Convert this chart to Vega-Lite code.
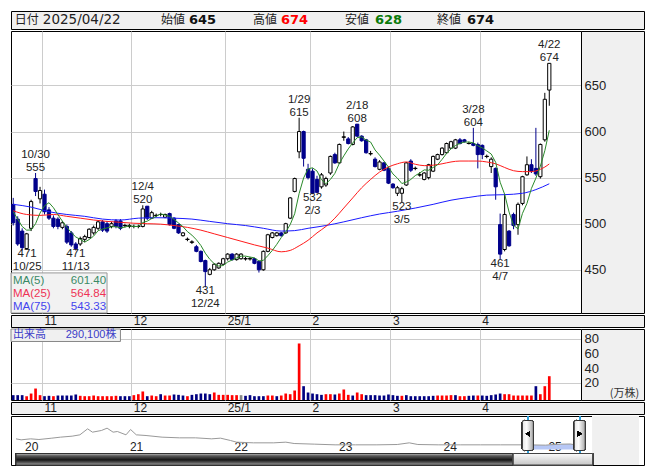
{
  "$schema": "https://vega.github.io/schema/vega-lite/v6.json",
  "background": "white",
  "padding": {"left": 10, "top": 10, "right": 0, "bottom": 0},
  "spacing": 0,
  "config": {
    "font": "Liberation Sans, Noto Sans CJK JP",
    "concat": {"spacing": 0},
    "axis": {"labelFont": "Liberation Sans", "labelFontSize": 13, "labelColor": "#222222", "labelOverlap": false, "labelFlush": false},
    "text": {"font": "Liberation Sans, Noto Sans CJK JP"}
  },
  "datasets": {
    "hdr": [
      {"k": "日付", "v": "2025/04/22"},
      {"k": "始値", "v": "645"},
      {"k": "高値", "v": "674"},
      {"k": "安値", "v": "628"},
      {"k": "終値", "v": "674"}
    ],
    "ma": [
      {"n": "MA(5)", "val": "601.40"},
      {"n": "MA(25)", "val": "564.84"},
      {"n": "MA(75)", "val": "543.33"}
    ],
    "vol": [{"n": "出来高", "val": "290,100株"}],
    "p": [
      {"d":"2024-10-23","o":521,"h":528,"l":498,"c":501,"v":3.2,"vd":"d","m5":513,"m25":514,"m75":521},
      {"d":"2024-10-24","o":505,"h":508,"l":476,"c":478,"v":3.2,"vd":"d","m5":505},
      {"d":"2024-10-25","o":492,"h":495,"l":471,"c":474,"v":3.2,"vd":"d","m5":497,"lo":["471","10/25"]},
      {"d":"2024-10-28","o":473,"h":490,"l":472,"c":489,"v":1.8,"vd":"u","m5":493,"m25":510},
      {"d":"2024-10-29","o":495,"h":526,"l":492,"c":524,"v":5.4,"vd":"u","m5":493.2,"m75":518},
      {"d":"2024-10-30","o":549,"h":555,"l":530,"c":535,"v":12.2,"vd":"u","m5":500,"hi":["10/30","555"]},
      {"d":"2024-10-31","o":527,"h":540,"l":522,"c":536,"v":3.2,"vd":"u","m5":511.6,"m25":509},
      {"d":"2024-11-01","o":532,"h":537,"l":510,"c":513,"v":1.8,"vd":"d","m5":519.4,"m":"11"},
      {"d":"2024-11-05","o":515,"h":518,"l":504,"c":506,"v":2.3,"vd":"d","m5":522.8,"m75":513},
      {"d":"2024-11-06","o":506,"h":509,"l":495,"c":497,"v":1.8,"vd":"u","m5":517.4,"m25":510},
      {"d":"2024-11-07","o":505,"h":507,"l":494,"c":497,"v":2.7,"vd":"d","m5":509.8},
      {"d":"2024-11-08","o":496,"h":503,"l":494,"c":501,"v":2.7,"vd":"d","m5":502.8},
      {"d":"2024-11-11","o":497,"h":499,"l":478,"c":480,"v":2.7,"vd":"d","m5":496.2,"m25":508,"m75":510},
      {"d":"2024-11-12","o":490,"h":492,"l":475,"c":477,"v":2.7,"vd":"d","m5":490.4},
      {"d":"2024-11-13","o":478,"h":480,"l":471,"c":473,"v":4.1,"vd":"d","m5":485.6,"lo":["471","11/13"]},
      {"d":"2024-11-14","o":478,"h":486,"l":476,"c":484,"v":2.3,"vd":"u","m5":483,"m25":506},
      {"d":"2024-11-15","o":483,"h":488,"l":480,"c":486,"v":1.8,"vd":"u","m5":480,"m75":508},
      {"d":"2024-11-18","o":485,"h":495,"l":484,"c":494,"v":1.8,"vd":"u","m5":482.8},
      {"d":"2024-11-19","o":490,"h":498,"l":488,"c":496,"v":2.7,"vd":"u","m5":486.6,"m25":504},
      {"d":"2024-11-20","o":495,"h":503,"l":493,"c":502,"v":1.8,"vd":"u","m5":492.4},
      {"d":"2024-11-21","o":502,"h":504,"l":491,"c":493,"v":1.8,"vd":"u","m5":494.2,"m75":505},
      {"d":"2024-11-22","o":500,"h":503,"l":490,"c":492,"v":1.8,"vd":"u","m5":495.4,"m25":502.5},
      {"d":"2024-11-25","o":497,"h":502,"l":495,"c":500,"v":1.8,"vd":"u","m5":496.6},
      {"d":"2024-11-26","o":503,"h":505,"l":495,"c":497,"v":2.3,"vd":"u","m5":496.8},
      {"d":"2024-11-27","o":503,"h":505,"l":493,"c":495,"v":1.8,"vd":"d","m5":495.4,"m25":501.5,"m75":504},
      {"d":"2024-11-28","o":498,"h":500,"l":496,"c":498,"v":1.8,"vd":"d","m5":496.4},
      {"d":"2024-11-29","o":497,"h":500,"l":495,"c":498,"v":1.8,"vd":"d","m5":497.6},
      {"d":"2024-12-02","o":497,"h":499,"l":495,"c":497,"v":3.2,"vd":"u","m5":497,"m25":500.5,"m":"12"},
      {"d":"2024-12-03","o":497,"h":499,"l":495,"c":497,"v":4.5,"vd":"u","m5":497,"m75":506},
      {"d":"2024-12-04","o":497,"h":520,"l":496,"c":516,"v":8.2,"vd":"u","m5":501.2,"hi":["12/4","520"]},
      {"d":"2024-12-05","o":519,"h":519,"l":504,"c":506,"v":1.8,"vd":"d","m5":502.8,"m25":500},
      {"d":"2024-12-06","o":506,"h":514,"l":505,"c":512,"v":2.7,"vd":"u","m5":505.6},
      {"d":"2024-12-09","o":509,"h":511,"l":507,"c":509,"v":1.8,"vd":"u","m5":508,"m75":506.5},
      {"d":"2024-12-10","o":510,"h":512,"l":508,"c":510,"v":4.5,"vd":"d","m5":510.6,"m25":499.5},
      {"d":"2024-12-11","o":507,"h":511,"l":506,"c":510,"v":2.7,"vd":"u","m5":509.4},
      {"d":"2024-12-12","o":511,"h":512,"l":498,"c":499,"v":2.7,"vd":"u","m5":508},
      {"d":"2024-12-13","o":506,"h":507,"l":494,"c":495,"v":4.1,"vd":"d","m5":504.6,"m25":498,"m75":506},
      {"d":"2024-12-16","o":499,"h":500,"l":489,"c":490,"v":3.6,"vd":"d","m5":500.8},
      {"d":"2024-12-17","o":487,"h":491,"l":486,"c":490,"v":2.7,"vd":"d","m5":496.8},
      {"d":"2024-12-18","o":483,"h":485,"l":481,"c":483,"v":1.8,"vd":"u","m5":491.4,"m25":496},
      {"d":"2024-12-19","o":480,"h":482,"l":478,"c":480,"v":3.6,"vd":"d","m5":487.6,"m75":505},
      {"d":"2024-12-20","o":475,"h":477,"l":469,"c":470,"v":4.5,"vd":"d","m5":482.6},
      {"d":"2024-12-23","o":470,"h":471,"l":458,"c":459,"v":5.4,"vd":"d","m5":476.4,"m25":493},
      {"d":"2024-12-24","o":460,"h":461,"l":431,"c":448,"v":5.4,"vd":"d","m5":468,"lo":["431","12/24"]},
      {"d":"2024-12-25","o":445,"h":452,"l":444,"c":450,"v":4.5,"vd":"d","m5":461.4,"m75":502.5},
      {"d":"2024-12-26","o":450,"h":457,"l":449,"c":456,"v":6.8,"vd":"u","m5":456.6,"m25":489},
      {"d":"2024-12-27","o":452,"h":458,"l":451,"c":457,"v":3.6,"vd":"u","m5":454},
      {"d":"2024-12-30","o":456,"h":463,"l":455,"c":462,"v":3.6,"vd":"u","m5":454.6},
      {"d":"2025-01-06","o":462,"h":468,"l":460,"c":467,"v":3.6,"vd":"u","m5":458.4,"m25":485,"m75":500,"m":"25/1"},
      {"d":"2025-01-07","o":467,"h":468,"l":460,"c":461,"v":3.2,"vd":"u","m5":460.6},
      {"d":"2025-01-08","o":461,"h":468,"l":460,"c":467,"v":3.2,"vd":"u","m5":462.8},
      {"d":"2025-01-09","o":462,"h":468,"l":461,"c":467,"v":3.2,"vd":"n","m5":464.8,"m25":481},
      {"d":"2025-01-10","o":462,"h":464,"l":460,"c":462,"v":2.3,"vd":"d","m5":464.8,"m75":498},
      {"d":"2025-01-14","o":462,"h":464,"l":460,"c":462,"v":3.2,"vd":"d","m5":463.8},
      {"d":"2025-01-15","o":462,"h":463,"l":456,"c":457,"v":1.8,"vd":"d","m5":463,"m25":477},
      {"d":"2025-01-16","o":459,"h":460,"l":447,"c":450,"v":1.8,"vd":"d","m5":459.6},
      {"d":"2025-01-17","o":450,"h":471,"l":449,"c":470,"v":1.8,"vd":"d","m5":460.2,"m75":495},
      {"d":"2025-01-20","o":470,"h":489,"l":469,"c":488,"v":2.7,"vd":"u","m5":465.4,"m25":473.5},
      {"d":"2025-01-21","o":485,"h":491,"l":484,"c":490,"v":2.7,"vd":"u","m5":471},
      {"d":"2025-01-22","o":487,"h":491,"l":486,"c":490,"v":1.8,"vd":"d","m5":477.6},
      {"d":"2025-01-23","o":490,"h":491,"l":486,"c":487,"v":2.7,"vd":"u","m5":485,"m25":469.5,"m75":492},
      {"d":"2025-01-24","o":490,"h":501,"l":489,"c":500,"v":5.4,"vd":"u","m5":491},
      {"d":"2025-01-27","o":506,"h":529,"l":505,"c":528,"v":4.5,"vd":"u","m5":499,"m25":471},
      {"d":"2025-01-28","o":535,"h":550,"l":534,"c":549,"v":9.5,"vd":"u","m5":510.8,"m75":492.5},
      {"d":"2025-01-29","o":578,"h":615,"l":571,"c":600,"v":73.5,"vd":"u","m5":532.8,"m25":476,"hi":["1/29","615"]},
      {"d":"2025-01-30","o":600,"h":601,"l":562,"c":571,"v":15.4,"vd":"d","m5":549.6},
      {"d":"2025-01-31","o":559,"h":565,"l":548,"c":550,"v":6.8,"vd":"d","m5":559.6,"m25":482,"m75":495},
      {"d":"2025-02-03","o":557,"h":560,"l":532,"c":533,"v":5.4,"vd":"d","m5":560.6,"lo":["532","2/3"],"m":"2"},
      {"d":"2025-02-04","o":548,"h":552,"l":533,"c":534,"v":4.5,"vd":"d","m5":557.2,"m25":490},
      {"d":"2025-02-05","o":540,"h":555,"l":538,"c":553,"v":3.6,"vd":"d","m5":547.8},
      {"d":"2025-02-06","o":542,"h":551,"l":540,"c":549,"v":4.5,"vd":"u","m5":543.4,"m25":497,"m75":498},
      {"d":"2025-02-07","o":555,"h":574,"l":553,"c":573,"v":4.5,"vd":"u","m5":548},
      {"d":"2025-02-10","o":575,"h":577,"l":565,"c":566,"v":4.1,"vd":"d","m5":554.6,"m25":506},
      {"d":"2025-02-12","o":566,"h":587,"l":565,"c":586,"v":5.4,"vd":"u","m5":565.4},
      {"d":"2025-02-13","o":594,"h":600,"l":590,"c":594,"v":10.9,"vd":"u","m5":573.6,"m25":517,"m75":502},
      {"d":"2025-02-14","o":592,"h":594,"l":586,"c":587,"v":3.6,"vd":"u","m5":581.2},
      {"d":"2025-02-17","o":586,"h":606,"l":585,"c":605,"v":2.7,"vd":"d","m5":587.6,"m25":528},
      {"d":"2025-02-18","o":608,"h":608,"l":594,"c":595,"v":6.8,"vd":"u","m5":593.4,"hi":["2/18","608"]},
      {"d":"2025-02-19","o":595,"h":596,"l":589,"c":590,"v":4.5,"vd":"u","m5":594.2,"m25":539,"m75":506.5},
      {"d":"2025-02-20","o":591,"h":592,"l":576,"c":577,"v":3.2,"vd":"d","m5":590.8},
      {"d":"2025-02-21","o":576,"h":579,"l":574,"c":576,"v":3.2,"vd":"d","m5":588.6,"m25":548},
      {"d":"2025-02-25","o":570,"h":572,"l":561,"c":562,"v":3.2,"vd":"d","m5":580},
      {"d":"2025-02-26","o":559,"h":569,"l":558,"c":567,"v":2.7,"vd":"d","m5":574.4,"m25":556,"m75":510.5},
      {"d":"2025-02-27","o":566,"h":567,"l":557,"c":558,"v":2.7,"vd":"d","m5":568},
      {"d":"2025-02-28","o":560,"h":562,"l":543,"c":544,"v":4.1,"vd":"d","m5":561.4,"m25":561.5},
      {"d":"2025-03-03","o":543,"h":544,"l":538,"c":539,"v":3.2,"vd":"d","m5":554,"m":"3"},
      {"d":"2025-03-04","o":533,"h":541,"l":530,"c":539,"v":2.3,"vd":"d","m5":549.4,"m25":565,"m75":513.5},
      {"d":"2025-03-05","o":533,"h":540,"l":523,"c":538,"v":2.3,"vd":"u","m5":543.6,"lo":["523","3/5"]},
      {"d":"2025-03-06","o":542,"h":567,"l":541,"c":566,"v":3.2,"vd":"d","m5":545.2,"m25":567},
      {"d":"2025-03-07","o":568,"h":570,"l":556,"c":558,"v":1.8,"vd":"d","m5":548},
      {"d":"2025-03-10","o":560,"h":562,"l":558,"c":560,"v":1.8,"vd":"d","m5":552.2,"m25":564.5,"m75":517},
      {"d":"2025-03-11","o":553,"h":556,"l":551,"c":553,"v":1.8,"vd":"d","m5":555},
      {"d":"2025-03-12","o":548,"h":556,"l":547,"c":555,"v":1.8,"vd":"d","m5":558.4,"m25":563},
      {"d":"2025-03-13","o":550,"h":565,"l":548,"c":564,"v":1.8,"vd":"d","m5":558},
      {"d":"2025-03-14","o":557,"h":574,"l":556,"c":573,"v":2.3,"vd":"d","m5":561,"m25":563.5,"m75":521},
      {"d":"2025-03-17","o":570,"h":576,"l":569,"c":575,"v":2.7,"vd":"u","m5":564},
      {"d":"2025-03-18","o":575,"h":583,"l":574,"c":582,"v":2.7,"vd":"u","m5":569.8,"m25":565},
      {"d":"2025-03-19","o":577,"h":588,"l":576,"c":587,"v":2.7,"vd":"u","m5":576.2},
      {"d":"2025-03-21","o":582,"h":590,"l":581,"c":589,"v":3.2,"vd":"u","m5":581.2,"m25":567,"m75":525.5},
      {"d":"2025-03-24","o":582,"h":592,"l":581,"c":591,"v":3.2,"vd":"d","m5":584.8},
      {"d":"2025-03-25","o":591,"h":593,"l":586,"c":587,"v":1.8,"vd":"u","m5":587.2,"m25":568},
      {"d":"2025-03-26","o":591,"h":592,"l":588,"c":589,"v":1.8,"vd":"u","m5":588.6},
      {"d":"2025-03-27","o":587,"h":589,"l":586,"c":587,"v":2.3,"vd":"d","m5":588.6,"m25":568,"m75":528.5},
      {"d":"2025-03-28","o":587,"h":604,"l":584,"c":585,"v":2.7,"vd":"d","m5":587.8,"hi":["3/28","604"]},
      {"d":"2025-03-31","o":586,"h":588,"l":560,"c":575,"v":2.7,"vd":"u","m5":584.6,"m25":568},
      {"d":"2025-04-01","o":585,"h":586,"l":570,"c":575,"v":2.7,"vd":"d","m5":582.2,"m":"4"},
      {"d":"2025-04-02","o":573,"h":575,"l":571,"c":573,"v":2.3,"vd":"d","m5":579,"m25":567,"m75":531},
      {"d":"2025-04-03","o":562,"h":572,"l":555,"c":570,"v":3.2,"vd":"d","m5":575.6},
      {"d":"2025-04-04","o":560,"h":561,"l":526,"c":540,"v":4.1,"vd":"d","m5":566.6,"m25":565},
      {"d":"2025-04-07","o":499,"h":511,"l":461,"c":467,"v":5.4,"vd":"d","m5":545,"lo":["461","4/7"]},
      {"d":"2025-04-08","o":472,"h":532,"l":470,"c":510,"v":4.5,"vd":"u","m5":532,"m25":561,"m75":531.5},
      {"d":"2025-04-09","o":492,"h":493,"l":475,"c":476,"v":4.5,"vd":"u","m5":512.6},
      {"d":"2025-04-10","o":510,"h":512,"l":494,"c":498,"v":2.7,"vd":"u","m5":498.2,"m25":557.5},
      {"d":"2025-04-11","o":499,"h":523,"l":488,"c":521,"v":2.7,"vd":"u","m5":494.4},
      {"d":"2025-04-14","o":522,"h":552,"l":520,"c":551,"v":2.7,"vd":"u","m5":511.2,"m25":556.5,"m75":533},
      {"d":"2025-04-15","o":553,"h":573,"l":552,"c":564,"v":2.7,"vd":"u","m5":522},
      {"d":"2025-04-16","o":564,"h":570,"l":555,"c":557,"v":2.7,"vd":"u","m5":538.2,"m25":556.5},
      {"d":"2025-04-17","o":560,"h":604,"l":552,"c":554,"v":15.4,"vd":"d","m5":549.4,"m75":537},
      {"d":"2025-04-18","o":551,"h":587,"l":549,"c":586,"v":4.5,"vd":"u","m5":562.4,"m25":559},
      {"d":"2025-04-21","o":591,"h":642,"l":589,"c":635,"v":15.4,"vd":"u","m5":579.2,"m25":561.5},
      {"d":"2025-04-22","o":645,"h":674,"l":628,"c":674,"v":29.0,"vd":"u","m5":601.4,"m25":564.84,"m75":543.33,"hi":["4/22","674"]}
    ],
    "nav": [
      {"t":"2019-12-02","v":1280},{"t":"2019-12-20","v":1160},{"t":"2020-01-22","v":1280},{"t":"2020-02-20","v":1200},
      {"t":"2020-04-05","v":1360},{"t":"2020-05-05","v":1480},{"t":"2020-06-15","v":1600},{"t":"2020-07-12","v":1760},
      {"t":"2020-08-08","v":2480},{"t":"2020-08-25","v":2080},{"t":"2020-09-25","v":2280},{"t":"2020-10-15","v":2560},
      {"t":"2020-11-05","v":2080},{"t":"2020-11-20","v":2160},{"t":"2020-12-20","v":1760},{"t":"2021-01-05","v":2400},
      {"t":"2021-01-25","v":1760},{"t":"2021-02-28","v":1680},{"t":"2021-04-25","v":1480},{"t":"2021-06-25","v":1400},
      {"t":"2021-08-20","v":1400},{"t":"2021-10-15","v":1280},{"t":"2021-11-15","v":1360},{"t":"2021-12-20","v":1080},
      {"t":"2022-01-10","v":880},{"t":"2022-03-10","v":800},{"t":"2022-05-20","v":800},{"t":"2022-07-01","v":880},
      {"t":"2022-07-30","v":720},{"t":"2022-10-10","v":640},{"t":"2022-12-20","v":560},{"t":"2023-03-01","v":560},
      {"t":"2023-05-15","v":560},{"t":"2023-07-25","v":600},{"t":"2023-09-05","v":800},{"t":"2023-10-05","v":600},
      {"t":"2023-12-15","v":560},{"t":"2024-03-01","v":560},{"t":"2024-05-10","v":560},{"t":"2024-07-20","v":560},
      {"t":"2024-09-30","v":560},
      {"t":"2024-10-23","v":560,"s":1},{"t":"2024-12-24","v":520,"s":1},{"t":"2025-01-06","v":560,"s":1},
      {"t":"2025-02-15","v":640,"s":1},{"t":"2025-03-20","v":660,"s":1},{"t":"2025-04-07","v":560,"s":1},{"t":"2025-04-22","v":680,"s":1}
    ]
  },
  "vconcat": [
    {
      "width": 633, "height": 18,
      "view": {"fill": "#f0f0f0", "stroke": "#000000"},
      "data": {"name": "hdr"},
      "layer": [
        {"transform": [{"filter": "datum.k == '日付'"}], "mark": {"type": "text", "align": "left", "font": "Noto Sans CJK JP", "fontSize": 12, "color": "#222222"},
         "encoding": {"x": {"datum": 3.8, "type": "quantitative", "scale": {"domain": [0, 633], "nice": false, "zero": false}, "axis": null}, "text": {"field": "k"}}},
        {"transform": [{"filter": "datum.k == '日付'"}], "mark": {"type": "text", "align": "left", "font": "DejaVu Sans", "fontSize": 13.5, "color": "#222222"},
         "encoding": {"x": {"datum": 31.8, "type": "quantitative", "axis": null}, "text": {"field": "v"}}},
        {"transform": [{"filter": "datum.k == '始値'"}], "mark": {"type": "text", "align": "left", "font": "Noto Sans CJK JP", "fontSize": 12, "color": "#222222"},
         "encoding": {"x": {"datum": 150, "type": "quantitative", "axis": null}, "text": {"field": "k"}}},
        {"transform": [{"filter": "datum.k == '始値'"}], "mark": {"type": "text", "align": "left", "font": "DejaVu Sans", "fontSize": 13, "fontWeight": "bold", "color": "#111111"},
         "encoding": {"x": {"datum": 178, "type": "quantitative", "axis": null}, "text": {"field": "v"}}},
        {"transform": [{"filter": "datum.k == '高値'"}], "mark": {"type": "text", "align": "left", "font": "Noto Sans CJK JP", "fontSize": 12, "color": "#222222"},
         "encoding": {"x": {"datum": 242, "type": "quantitative", "axis": null}, "text": {"field": "k"}}},
        {"transform": [{"filter": "datum.k == '高値'"}], "mark": {"type": "text", "align": "left", "font": "DejaVu Sans", "fontSize": 13, "fontWeight": "bold", "color": "#ff0000"},
         "encoding": {"x": {"datum": 270, "type": "quantitative", "axis": null}, "text": {"field": "v"}}},
        {"transform": [{"filter": "datum.k == '安値'"}], "mark": {"type": "text", "align": "left", "font": "Noto Sans CJK JP", "fontSize": 12, "color": "#222222"},
         "encoding": {"x": {"datum": 334, "type": "quantitative", "axis": null}, "text": {"field": "k"}}},
        {"transform": [{"filter": "datum.k == '安値'"}], "mark": {"type": "text", "align": "left", "font": "DejaVu Sans", "fontSize": 13, "fontWeight": "bold", "color": "#0a7a0a"},
         "encoding": {"x": {"datum": 364, "type": "quantitative", "axis": null}, "text": {"field": "v"}}},
        {"transform": [{"filter": "datum.k == '終値'"}], "mark": {"type": "text", "align": "left", "font": "Noto Sans CJK JP", "fontSize": 12, "color": "#222222"},
         "encoding": {"x": {"datum": 426, "type": "quantitative", "axis": null}, "text": {"field": "k"}}},
        {"transform": [{"filter": "datum.k == '終値'"}], "mark": {"type": "text", "align": "left", "font": "DejaVu Sans", "fontSize": 13, "fontWeight": "bold", "color": "#111111"},
         "encoding": {"x": {"datum": 456, "type": "quantitative", "axis": null}, "text": {"field": "v"}}}
      ]
    },
    {
      "hconcat": [
        {
          "width": 570, "height": 282,
          "view": {"fill": "#ffffff", "stroke": "#000000"},
          "data": {"name": "p"},
          "encoding": {"x": {"field": "d", "type": "ordinal",
            "scale": {"type": "band", "paddingInner": 0, "paddingOuter": 0.3, "align": 0, "round": false,
                      "domain": {"unionWith": ["2025-04-23","2025-04-24","2025-04-25","2025-04-28","2025-04-30","2025-05-01"]}},
            "axis": {"values": ["2024-11-01","2024-12-02","2025-01-06","2025-02-03","2025-03-03","2025-04-01"], "grid": true, "gridColor": "#cccccc", "labels": false, "ticks": false, "domain": false, "title": null, "bandPosition": 0}}},
          "layer": [
            {"mark": {"type": "rule", "strokeWidth": 1},
             "encoding": {
               "y": {"field": "l", "type": "quantitative", "scale": {"domain": [403.1, 709.1], "nice": false, "zero": false},
                     "axis": {"values": [450, 500, 550, 600, 650], "grid": true, "gridColor": "#cccccc", "labels": false, "ticks": false, "domain": false, "title": null}},
               "y2": {"field": "h"},
               "color": {"condition": {"test": "datum.c >= datum.o", "value": "#000000"}, "value": "#00008b"}}},
            {"mark": {"type": "bar", "width": {"band": 0.72}, "strokeWidth": 1},
             "encoding": {
               "y": {"field": "o", "type": "quantitative"}, "y2": {"field": "c"},
               "fill": {"condition": {"test": "datum.c >= datum.o", "value": "#ffffff"}, "value": "#00008b"},
               "stroke": {"condition": {"test": "datum.c >= datum.o", "value": "#000000"}, "value": "#00008b"}}},
            {"transform": [{"filter": "datum.o == datum.c"}], "mark": {"type": "tick", "thickness": 1, "size": 4.5, "color": "#000000"},
             "encoding": {"y": {"field": "c", "type": "quantitative"}}},
            {"transform": [{"filter": "isValid(datum.m75)"}], "mark": {"type": "line", "color": "#1a1aff", "strokeWidth": 1, "interpolate": "monotone"},
             "encoding": {"y": {"field": "m75", "type": "quantitative"}}},
            {"transform": [{"filter": "isValid(datum.m25)"}], "mark": {"type": "line", "color": "#ff1a1a", "strokeWidth": 1, "interpolate": "monotone"},
             "encoding": {"y": {"field": "m25", "type": "quantitative"}}},
            {"mark": {"type": "line", "color": "#2a8a2a", "strokeWidth": 1},
             "encoding": {"y": {"field": "m5", "type": "quantitative"}}},
            {"transform": [{"filter": "isValid(datum.hi)"}], "mark": {"type": "text", "baseline": "bottom", "dy": -13, "fontSize": 11.5, "lineHeight": 13, "color": "#222222"},
             "encoding": {"y": {"field": "h", "type": "quantitative"}, "text": {"field": "hi"}}},
            {"transform": [{"filter": "isValid(datum.lo) && datum.d != '2024-10-25'"}], "mark": {"type": "text", "baseline": "top", "dy": -2, "fontSize": 11.5, "lineHeight": 13, "color": "#222222"},
             "encoding": {"y": {"field": "l", "type": "quantitative"}, "text": {"field": "lo"}}},
            {"transform": [{"filter": "datum.d == '2024-10-25'"}], "mark": {"type": "text", "baseline": "top", "dy": -2, "dx": 5, "fontSize": 11.5, "lineHeight": 13, "color": "#222222"},
             "encoding": {"y": {"field": "l", "type": "quantitative"}, "text": {"field": "lo"}}},
            {"data": {"values": [{"box": 1}]}, "mark": {"type": "rect", "fill": "#f0f0f0", "fillOpacity": 0.85, "stroke": "#999999", "strokeWidth": 1},
             "encoding": {"x": {"datum": "2024-10-23", "type": "ordinal", "bandPosition": 0}, "x2": {"datum": "2024-11-22"},
                          "y": {"datum": 446.6, "type": "quantitative"}, "y2": {"datum": 403.1}}},
            {"data": {"name": "ma"}, "transform": [{"filter": "datum.n == 'MA(5)'"}], "mark": {"type": "text", "align": "left", "dx": 2, "fontSize": 11.5, "color": "#3a8a66"},
             "encoding": {"x": {"datum": "2024-10-23", "type": "ordinal", "bandPosition": 0}, "y": {"datum": 438.06, "type": "quantitative"}, "text": {"field": "n"}}},
            {"data": {"name": "ma"}, "transform": [{"filter": "datum.n == 'MA(5)'"}], "mark": {"type": "text", "align": "right", "dx": -1, "fontSize": 11.5, "color": "#3a8a66"},
             "encoding": {"x": {"datum": "2024-11-22", "type": "ordinal", "bandPosition": 0.5}, "y": {"datum": 438.06, "type": "quantitative"}, "text": {"field": "val"}}},
            {"data": {"name": "ma"}, "transform": [{"filter": "datum.n == 'MA(25)'"}], "mark": {"type": "text", "align": "left", "dx": 2, "fontSize": 11.5, "color": "#ee3355"},
             "encoding": {"x": {"datum": "2024-10-23", "type": "ordinal", "bandPosition": 0}, "y": {"datum": 424.07, "type": "quantitative"}, "text": {"field": "n"}}},
            {"data": {"name": "ma"}, "transform": [{"filter": "datum.n == 'MA(25)'"}], "mark": {"type": "text", "align": "right", "dx": -1, "fontSize": 11.5, "color": "#ee3355"},
             "encoding": {"x": {"datum": "2024-11-22", "type": "ordinal", "bandPosition": 0.5}, "y": {"datum": 424.07, "type": "quantitative"}, "text": {"field": "val"}}},
            {"data": {"name": "ma"}, "transform": [{"filter": "datum.n == 'MA(75)'"}], "mark": {"type": "text", "align": "left", "dx": 2, "fontSize": 11.5, "color": "#4444ee"},
             "encoding": {"x": {"datum": "2024-10-23", "type": "ordinal", "bandPosition": 0}, "y": {"datum": 410.08, "type": "quantitative"}, "text": {"field": "n"}}},
            {"data": {"name": "ma"}, "transform": [{"filter": "datum.n == 'MA(75)'"}], "mark": {"type": "text", "align": "right", "dx": -1, "fontSize": 11.5, "color": "#4444ee"},
             "encoding": {"x": {"datum": "2024-11-22", "type": "ordinal", "bandPosition": 0.5}, "y": {"datum": 410.08, "type": "quantitative"}, "text": {"field": "val"}}}
          ]
        },
        {
          "width": 63, "height": 282,
          "view": {"fill": "#f0f0f0", "stroke": "#000000"},
          "data": {"values": [{"a": 1}]},
          "mark": {"type": "text", "text": ""},
          "encoding": {"y": {"datum": 500, "type": "quantitative", "scale": {"domain": [403.1, 709.1], "nice": false, "zero": false},
            "axis": {"orient": "right", "offset": -63, "values": [450, 500, 550, 600, 650], "ticks": false, "domain": false, "grid": false, "labelPadding": 3, "title": null}}}
        }
      ],
      "spacing": 0, "bounds": "flush"
    },
    {
      "width": 633, "height": 12,
      "view": {"fill": "#f0f0f0", "stroke": "#000000"},
      "data": {"name": "p"},
      "encoding": {"x": {"field": "d", "type": "ordinal", "scale": {"type": "band", "paddingInner": 0, "paddingOuter": 0.35, "align": 0, "round": false,
        "domain": {"unionWith": ["2025-04-23","2025-04-24","2025-04-25","2025-04-28","2025-04-30","2025-05-01","2025-05-02","2025-05-07","2025-05-08","2025-05-09","2025-05-12","2025-05-13","2025-05-14","2025-05-15","2025-05-16","2025-05-19","2025-05-20","2025-05-21","2025-05-22","2025-05-23"]}}, "axis": null}},
      "layer": [
        {"mark": {"type": "rule", "opacity": 0}, "encoding": {}},
        {"transform": [{"filter": "isValid(datum.m)"}], "mark": {"type": "text", "align": "left", "fontSize": 12, "color": "#222222"}, "encoding": {"text": {"field": "m"}}}
      ]
    },
    {
      "hconcat": [
        {
          "width": 570, "height": 71,
          "view": {"fill": "#ffffff", "stroke": "#000000"},
          "data": {"name": "p"},
          "encoding": {"x": {"field": "d", "type": "ordinal",
            "scale": {"type": "band", "paddingInner": 0, "paddingOuter": 0.3, "align": 0, "round": false,
                      "domain": {"unionWith": ["2025-04-23","2025-04-24","2025-04-25","2025-04-28","2025-04-30","2025-05-01"]}},
            "axis": {"values": ["2024-11-01","2024-12-02","2025-01-06","2025-02-03","2025-03-03","2025-04-01"], "grid": true, "gridColor": "#cccccc", "labels": false, "ticks": false, "domain": false, "title": null, "bandPosition": 0}}},
          "layer": [
            {"mark": {"type": "bar", "width": {"band": 0.6}},
             "encoding": {
               "y": {"field": "v", "type": "quantitative", "scale": {"domain": [-3.4, 93.2], "nice": false, "zero": false},
                     "axis": {"values": [20, 40, 60, 80], "grid": true, "gridColor": "#cccccc", "labels": false, "ticks": false, "domain": false, "title": null}},
               "y2": {"datum": -3.4},
               "color": {"condition": [{"test": "datum.vd == 'u'", "value": "#ff0000"}, {"test": "datum.vd == 'n'", "value": "#888888"}], "value": "#000080"}}},
            {"data": {"values": [{"box": 1}]}, "mark": {"type": "rect", "fill": "#f0f0f0", "stroke": "#888888", "strokeWidth": 1},
             "encoding": {"x": {"datum": "2024-10-23", "type": "ordinal", "bandPosition": 0}, "x2": {"datum": "2024-11-27"},
                          "y": {"datum": 93.2, "type": "quantitative"}, "y2": {"datum": 76.2}}},
            {"data": {"name": "vol"}, "mark": {"type": "text", "align": "left", "dx": 2, "font": "Noto Sans CJK JP", "fontSize": 11, "color": "#3c3cc8"},
             "encoding": {"x": {"datum": "2024-10-23", "type": "ordinal", "bandPosition": 0}, "y": {"datum": 85, "type": "quantitative"}, "text": {"field": "n"}}},
            {"data": {"name": "vol"}, "mark": {"type": "text", "align": "right", "dx": 0, "fontSize": 11, "color": "#3c3cc8"},
             "encoding": {"x": {"datum": "2024-11-26", "type": "ordinal", "bandPosition": 0.6}, "y": {"datum": 85, "type": "quantitative"}, "text": {"field": "val"}}}
          ]
        },
        {
          "width": 63, "height": 71,
          "view": {"fill": "#f0f0f0", "stroke": "#000000"},
          "data": {"values": [{"u": "(万株)"}]},
          "mark": {"type": "text", "dx": 12, "font": "Noto Sans CJK JP", "fontSize": 11, "color": "#333333"},
          "encoding": {
            "text": {"field": "u"},
            "y": {"datum": 4.8, "type": "quantitative", "scale": {"domain": [-3.4, 93.2], "nice": false, "zero": false},
              "axis": {"orient": "right", "offset": -63, "values": [20, 40, 60, 80], "ticks": false, "domain": false, "grid": false, "labelPadding": 3, "title": null}}}
        }
      ],
      "spacing": 0, "bounds": "flush"
    },
    {
      "width": 633, "height": 12,
      "view": {"fill": "#f0f0f0", "stroke": "#000000"},
      "data": {"name": "p"},
      "encoding": {"x": {"field": "d", "type": "ordinal", "scale": {"type": "band", "paddingInner": 0, "paddingOuter": 0.35, "align": 0, "round": false,
        "domain": {"unionWith": ["2025-04-23","2025-04-24","2025-04-25","2025-04-28","2025-04-30","2025-05-01","2025-05-02","2025-05-07","2025-05-08","2025-05-09","2025-05-12","2025-05-13","2025-05-14","2025-05-15","2025-05-16","2025-05-19","2025-05-20","2025-05-21","2025-05-22","2025-05-23"]}}, "axis": null}},
      "layer": [
        {"mark": {"type": "rule", "opacity": 0}, "encoding": {}},
        {"transform": [{"filter": "isValid(datum.m)"}], "mark": {"type": "text", "align": "left", "fontSize": 12, "color": "#222222"}, "encoding": {"text": {"field": "m"}}}
      ]
    },
    {
      "width": 633, "height": 49,
      "view": {"fill": "#ffffff", "stroke": "#000000"},
      "data": {"name": "nav"},
      "layer": [
        {"mark": {"type": "rect", "fill": "#f0f0f0"},
         "encoding": {
           "x": {"datum": {"year": 2025, "month": 6, "date": 6}, "type": "temporal",
                 "scale": {"domain": [{"year": 2019, "month": 12, "date": 2}, {"year": 2025, "month": 11, "date": 15}]},
                 "axis": {"orient": "bottom", "offset": -19, "values": [{"year": 2020, "month": 1, "date": 1}, {"year": 2021, "month": 1, "date": 1}, {"year": 2022, "month": 1, "date": 1}, {"year": 2023, "month": 1, "date": 1}, {"year": 2024, "month": 1, "date": 1}, {"year": 2025, "month": 1, "date": 1}],
                          "format": "%y", "labelAlign": "left", "labelBaseline": "middle", "labelPadding": 0, "labelFontSize": 12, "ticks": false, "domain": false, "grid": false, "title": null}},
           "x2": {"datum": {"year": 2025, "month": 11, "date": 15}},
           "y": {"datum": 4020, "type": "quantitative", "scale": {"domain": [-1860, 4020], "nice": false, "zero": false}, "axis": null},
           "y2": {"datum": -1860}}},
        {"transform": [{"filter": "datum.s == 1"}], "mark": {"type": "area", "color": "#b7c7f5", "interpolate": "linear"},
         "encoding": {"x": {"field": "t", "type": "temporal"}, "y": {"field": "v", "type": "quantitative"}, "y2": {"datum": 0}}},
        {"mark": {"type": "line", "color": "#999999", "strokeWidth": 1},
         "encoding": {"x": {"field": "t", "type": "temporal"}, "y": {"field": "v", "type": "quantitative"}}},
        {"mark": {"type": "rule", "color": "#2f9fd8", "strokeWidth": 1},
         "encoding": {"x": {"datum": {"year": 2024, "month": 10, "date": 23}, "type": "temporal"}, "y": {"datum": 4020}, "y2": {"datum": -480}}},
        {"mark": {"type": "rule", "color": "#2f9fd8", "strokeWidth": 1},
         "encoding": {"x": {"datum": {"year": 2025, "month": 4, "date": 22}, "type": "temporal"}, "y": {"datum": 4020}, "y2": {"datum": -480}}},
        {"mark": {"type": "rect", "stroke": "#333333", "strokeWidth": 1,
                  "fill": {"gradient": "linear", "x1": 0, "y1": 0, "x2": 0, "y2": 1, "stops": [{"offset": 0, "color": "#c4c4c4"}, {"offset": 0.2, "color": "#5a5a5a"}, {"offset": 0.55, "color": "#151515"}, {"offset": 0.85, "color": "#6a6a6a"}, {"offset": 1, "color": "#b0b0b0"}]}},
         "encoding": {"x": {"datum": {"year": 2019, "month": 12, "date": 2}, "type": "temporal"}, "x2": {"datum": {"year": 2024, "month": 9, "date": 2}},
                      "y": {"datum": -480}, "y2": {"datum": -1860}}},
        {"mark": {"type": "rect", "stroke": "#444444", "strokeWidth": 1,
                  "fill": {"gradient": "linear", "x1": 0, "y1": 0, "x2": 0, "y2": 1, "stops": [{"offset": 0, "color": "#fbfbfb"}, {"offset": 1, "color": "#c6c6c6"}]}},
         "encoding": {"x": {"datum": {"year": 2024, "month": 9, "date": 2}, "type": "temporal"}, "x2": {"datum": {"year": 2025, "month": 6, "date": 6}},
                      "y": {"datum": -480}, "y2": {"datum": -1860}}},
        {"mark": {"type": "bar", "width": 11, "cornerRadius": 2, "stroke": "#333333", "strokeWidth": 1,
                  "fill": {"gradient": "linear", "x1": 0, "y1": 0, "x2": 1, "y2": 0, "stops": [{"offset": 0, "color": "#e6e6e6"}, {"offset": 0.4, "color": "#fdfdfd"}, {"offset": 1, "color": "#a8a8a8"}]}},
         "encoding": {"x": {"datum": {"year": 2024, "month": 10, "date": 23}, "type": "temporal"}, "y": {"datum": 3480}, "y2": {"datum": -120}}},
        {"mark": {"type": "bar", "width": 11, "cornerRadius": 2, "stroke": "#333333", "strokeWidth": 1,
                  "fill": {"gradient": "linear", "x1": 0, "y1": 0, "x2": 1, "y2": 0, "stops": [{"offset": 0, "color": "#e6e6e6"}, {"offset": 0.4, "color": "#fdfdfd"}, {"offset": 1, "color": "#a8a8a8"}]}},
         "encoding": {"x": {"datum": {"year": 2025, "month": 4, "date": 22}, "type": "temporal"}, "y": {"datum": 3480}, "y2": {"datum": -120}}},
        {"mark": {"type": "point", "shape": "triangle-left", "size": 22, "filled": true, "color": "#000000", "opacity": 1},
         "encoding": {"x": {"datum": {"year": 2024, "month": 10, "date": 23}, "type": "temporal"}, "y": {"datum": 1880}}},
        {"mark": {"type": "point", "shape": "triangle-right", "size": 22, "filled": true, "color": "#000000", "opacity": 1},
         "encoding": {"x": {"datum": {"year": 2025, "month": 4, "date": 22}, "type": "temporal"}, "y": {"datum": 1880}}}
      ]
    }
  ]
}
